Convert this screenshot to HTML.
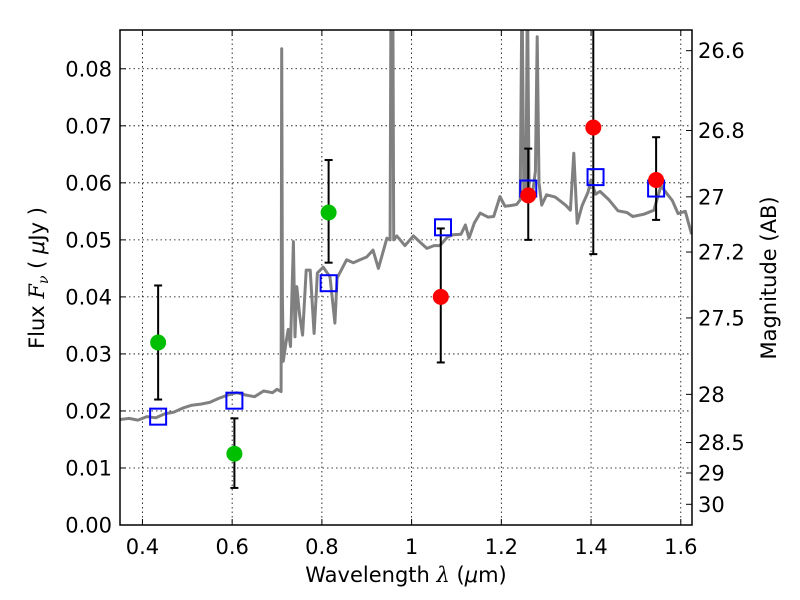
<!DOCTYPE html>
<html><head><meta charset="utf-8"><style>
body{margin:0;background:#fff}
svg{display:block;font-family:"DejaVu Sans","Liberation Sans",sans-serif}
</style></head><body>
<svg id="c" width="800" height="600" xmlns="http://www.w3.org/2000/svg">
<defs><clipPath id="clip"><rect x="120" y="30" width="572" height="495"/></clipPath></defs>
<rect x="0" y="0" width="800" height="600" fill="#fff"/>
<g id="grid"></g>
<g id="marks" clip-path="url(#clip)"></g>
<rect x="120" y="30" width="572" height="495" fill="none" stroke="#000" stroke-width="1.5"/>
<g id="axes"></g>
<text x="406" y="582" text-anchor="middle" font-size="21">Wavelength  <tspan font-family="DejaVu Serif,serif" font-style="italic">λ</tspan> (<tspan font-style="italic">μ</tspan>m)</text>
<text transform="translate(44,278) rotate(-90)" text-anchor="middle" font-size="21">Flux  <tspan font-style="italic" font-family="DejaVu Serif,serif">F<tspan font-size="14" dy="4">ν</tspan></tspan><tspan dy="-4">  ( </tspan><tspan font-style="italic">μ</tspan>Jy )</text>
<text transform="translate(776,278) rotate(-90)" text-anchor="middle" font-size="21">Magnitude (AB)</text>
</svg>
<script>
const xTicks=[0.4,0.6,0.8,1.0,1.2,1.4,1.6];
const xTickLabels=["0.4","0.6","0.8","1","1.2","1.4","1.6"];
const yTicks=[0,0.01,0.02,0.03,0.04,0.05,0.06,0.07,0.08];
const yTickLabels=["0.00","0.01","0.02","0.03","0.04","0.05","0.06","0.07","0.08"];
const magTicks=[26.6,26.8,27,27.2,27.5,28,28.5,29,30];
const magTickLabels=["26.6","26.8","27","27.2","27.5","28","28.5","29","30"];
const specWave=[0.35,0.37,0.39,0.41,0.43,0.45,0.47,0.49,0.51,0.53,0.55,0.57,0.59,0.61,0.63,0.65,0.67,0.69,0.70,0.709,0.7105,0.712,0.714,0.72,0.725,0.73,0.7365,0.74,0.744,0.75,0.757,0.765,0.774,0.7826,0.79,0.803,0.818,0.829,0.834,0.855,0.87,0.885,0.90,0.914,0.926,0.945,0.952,0.954,0.958,0.96,0.967,0.985,1.004,1.02,1.034,1.05,1.063,1.08,1.093,1.11,1.12,1.128,1.14,1.153,1.17,1.183,1.197,1.208,1.22,1.234,1.242,1.246,1.25,1.255,1.258,1.262,1.2675,1.276,1.28,1.284,1.29,1.301,1.32,1.343,1.354,1.3616,1.369,1.38,1.393,1.40,1.41,1.42,1.44,1.46,1.48,1.493,1.518,1.54,1.556,1.57,1.581,1.594,1.61,1.624];
const specFlux=[0.0185,0.0187,0.0184,0.019,0.0188,0.0195,0.0198,0.0205,0.021,0.0212,0.0215,0.0222,0.0228,0.0232,0.0228,0.0225,0.0235,0.0232,0.0238,0.0234,0.0835,0.04,0.0287,0.032,0.0343,0.0313,0.0497,0.033,0.0418,0.037,0.0333,0.0447,0.0447,0.0336,0.0442,0.0452,0.0435,0.0354,0.0433,0.0465,0.046,0.0465,0.047,0.0482,0.045,0.0503,0.05,0.095,0.095,0.05,0.0507,0.049,0.0507,0.0495,0.0485,0.049,0.049,0.0505,0.0509,0.051,0.0526,0.0503,0.053,0.0547,0.054,0.0541,0.0576,0.0559,0.056,0.0562,0.057,0.095,0.058,0.059,0.095,0.058,0.0569,0.062,0.0856,0.06,0.0561,0.0579,0.0575,0.0561,0.0552,0.0652,0.0529,0.056,0.0583,0.0605,0.058,0.0585,0.057,0.0551,0.0548,0.0541,0.0545,0.0552,0.0595,0.058,0.0569,0.0546,0.055,0.051];
const greenWave=[0.435,0.605,0.815];
const greenFlux=[0.032,0.0125,0.0548];
const greenLo=[0.022,0.0065,0.046];
const greenHi=[0.042,0.0187,0.064];
const redWave=[1.065,1.26,1.405,1.545];
const redFlux=[0.040,0.0578,0.0697,0.0605];
const redLo=[0.0285,0.050,0.0475,0.0535];
const redHi=[0.052,0.066,0.095,0.068];
const modelWave=[0.435,0.605,0.815,1.07,1.26,1.41,1.545];
const modelFlux=[0.019,0.0218,0.0424,0.0522,0.059,0.061,0.059];

const X0=120,X1=692,Y0=525,Y1=30,XMIN=0.35,XMAX=1.625,YMIN=0,YMAX=0.0868;
const sx=v=>X0+(v-XMIN)/(XMAX-XMIN)*(X1-X0);
const sy=v=>Y0-(v-YMIN)/(YMAX-YMIN)*(Y0-Y1);
const magToFlux=m=>Math.pow(10,(23.9-m)/2.5);
const NS="http://www.w3.org/2000/svg";
function mk(tag,attrs,parent){const e=document.createElementNS(NS,tag);for(const k in attrs)e.setAttribute(k,attrs[k]);parent.appendChild(e);return e;}
const grid=document.getElementById('grid'),marks=document.getElementById('marks'),axes=document.getElementById('axes');

xTicks.forEach((t,i)=>{const x=sx(t);
 const g=mk('line',{x1:x,x2:x,y1:Y1,y2:Y0,stroke:'#000','stroke-width':0.8,'stroke-dasharray':'1.5,3'},grid);
 
 
 mk('line',{x1:x,x2:x,y1:Y0,y2:Y0-6,stroke:'#000'},axes);
 mk('line',{x1:x,x2:x,y1:Y1,y2:Y1+6,stroke:'#000'},axes);
 const l=mk('text',{x:x,y:554,'text-anchor':'middle','font-size':21},axes);l.textContent=xTickLabels[i];
 
 
});
yTicks.forEach((t,i)=>{const y=sy(t);
 const g=mk('line',{x1:X0,x2:X1,y1:y,y2:y,stroke:'#000','stroke-width':0.8,'stroke-dasharray':'1.5,3'},grid);
 
 
 mk('line',{x1:X0,x2:X0+6,y1:y,y2:y,stroke:'#000'},axes);
 const l=mk('text',{x:112,y:y+7.5,'text-anchor':'end','font-size':21},axes);l.textContent=yTickLabels[i];
 
 
});
magTicks.forEach((m,i)=>{const y=sy(magToFlux(m));
 mk('line',{x1:X1,x2:X1-6,y1:y,y2:y,stroke:'#000'},axes);
 const l=mk('text',{x:698,y:y+7.5,'font-size':21},axes);l.textContent=magTickLabels[i];
 
 
});
const pts=specWave.map((w,i)=>sx(w).toFixed(1)+','+sy(specFlux[i]).toFixed(1)).join(' ');
const sp=mk('polyline',{points:pts,fill:'none',stroke:'#808080','stroke-width':3,'stroke-linejoin':'round'},marks);


function errs(ws,lo,hi){ws.forEach((w,i)=>{const x=sx(w);
 const e=mk('line',{x1:x,x2:x,y1:sy(lo[i]),y2:sy(hi[i]),stroke:'#000','stroke-width':2},marks);
 
 
 mk('line',{x1:x-4,x2:x+4,y1:sy(lo[i]),y2:sy(lo[i]),stroke:'#000','stroke-width':2},marks);
 mk('line',{x1:x-4,x2:x+4,y1:sy(hi[i]),y2:sy(hi[i]),stroke:'#000','stroke-width':2},marks);});}
errs(greenWave,greenLo,greenHi);errs(redWave,redLo,redHi);
modelWave.forEach((w,i)=>{const r=mk('rect',{x:sx(w)-8,y:sy(modelFlux[i])-8,width:16,height:16,fill:'none',stroke:'#0000ff','stroke-width':2},marks);
 
 });
greenWave.forEach((w,i)=>{const c=mk('circle',{cx:sx(w),cy:sy(greenFlux[i]),r:8,fill:'#00bf00'},marks);
 
 });
redWave.forEach((w,i)=>{const c=mk('circle',{cx:sx(w),cy:sy(redFlux[i]),r:8,fill:'#ff0000'},marks);
 
 });
</script>
</body></html>
